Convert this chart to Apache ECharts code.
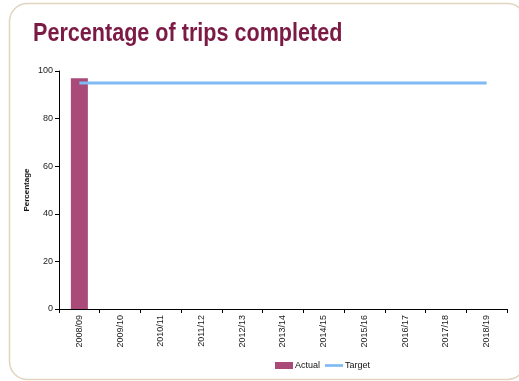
<!DOCTYPE html>
<html>
<head>
<meta charset="utf-8">
<script src="https://cdn.jsdelivr.net/npm/echarts@6/dist/echarts.min.js"></script>
<style>
  html, body { margin: 0; padding: 0; background: #ffffff; }
  #chart { width: 519px; height: 381px; }
</style>
</head>
<body>
<div id="chart"></div>
<script>
// Financial years on the category axis
const years = ['2008/09', '2009/10', '2010/11', '2011/12', '2012/13', '2013/14',
               '2014/15', '2015/16', '2016/17', '2017/18', '2018/19'];
// Percentage of trips completed (only the first year reported so far)
const actual = [97, null, null, null, null, null, null, null, null, null, null];
// Target percentage for each year
const target = [95, 95, 95, 95, 95, 95, 95, 95, 95, 95, 95];

const chart = echarts.init(document.getElementById('chart'), null, { renderer: 'canvas' });

chart.setOption({
  backgroundColor: '#ffffff',
  animation: false,
  textStyle: { fontFamily: "'Liberation Sans', Arial, sans-serif" },
  graphic: [
    {
      type: 'rect',
      shape: { x: 9.5, y: 3.5, width: 516, height: 376, r: 18 },
      style: { fill: 'none', stroke: '#e2d5c0', lineWidth: 1.5 },
      silent: true,
      z: 0
    },
    {
      // condensed-looking heading: bold face squeezed horizontally
      type: 'text',
      x: 33,
      y: 21,
      scaleX: 0.83,
      style: {
        text: 'Percentage of trips completed',
        fill: '#7b1a45',
        font: "bold 26px 'Liberation Sans', Arial, sans-serif"
      }
    }
  ],
  grid: { left: 59, right: 12, top: 71, bottom: 72, containLabel: false },
  legend: {
    bottom: 6,
    left: 270,
    itemWidth: 18,
    itemHeight: 7,
    itemGap: 5,
    textStyle: { fontSize: 9, color: '#111', padding: [0, 0, 0, -3] },
    data: [
      { name: 'Actual', icon: 'rect' },
      { name: 'Target', icon: 'path://M0,0H20V3H0Z' }
    ]
  },
  xAxis: {
    type: 'category',
    data: years,
    boundaryGap: true,
    axisLine: { lineStyle: { color: '#000', width: 1 } },
    axisTick: { show: true, alignWithLabel: false, length: 4, lineStyle: { color: '#000' } },
    axisLabel: { rotate: 90, fontSize: 9, color: '#222', margin: 6, interval: 0 },
    splitLine: { show: false }
  },
  yAxis: {
    type: 'value',
    min: 0,
    max: 100,
    interval: 20,
    name: 'Percentage',
    nameLocation: 'middle',
    nameRotate: 90,
    nameGap: 28,
    nameMoveOverlap: false,
    nameTextStyle: { fontSize: 8, fontWeight: 'bold', color: '#111' },
    axisLine: { show: true, lineStyle: { color: '#000', width: 1 } },
    axisTick: { show: true, length: 4, lineStyle: { color: '#000' } },
    axisLabel: { fontSize: 9, color: '#222', margin: 6 },
    splitLine: { show: false }
  },
  series: [
    {
      name: 'Actual',
      type: 'bar',
      data: actual,
      barWidth: 17,
      itemStyle: { color: '#a94a78' },
      z: 2
    },
    {
      name: 'Target',
      type: 'line',
      data: target,
      symbol: 'none',
      showSymbol: false,
      lineStyle: { color: '#7fbaf2', width: 3 },
      itemStyle: { color: '#7fbaf2' },
      z: 3
    }
  ]
});
</script>
</body>
</html>
